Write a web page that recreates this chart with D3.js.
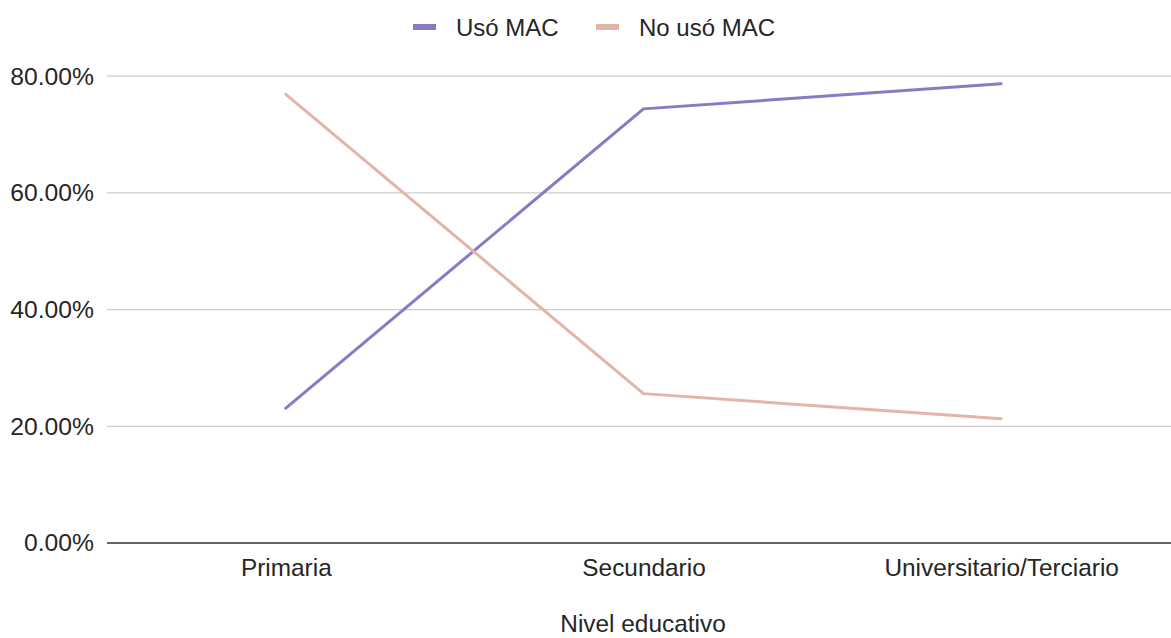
<!DOCTYPE html>
<html>
<head>
<meta charset="utf-8">
<script src="https://cdn.jsdelivr.net/npm/d3@7"></script>
<style>
  html, body { margin: 0; padding: 0; background: #ffffff; }
  svg { display: block; font-family: "Liberation Sans", Arial, sans-serif; }
</style>
</head>
<body>
<svg id="chart" width="1171" height="638"></svg>
<script>
// Education level categories and share of each group (percent)
const categories = ["Primaria", "Secundario", "Universitario/Terciario"];
const usoMAC = [23.1, 74.4, 78.7];
const noUsoMAC = [76.9, 25.6, 21.3];
const yTicks = [0, 20, 40, 60, 80];
const seriesNames = ["Usó MAC", "No usó MAC"];
const seriesColors = ["#8a79c5", "#e4b4a9"];
const xTitle = "Nivel educativo";

const svg = d3.select("#chart");
const W = 1171;
const plotLeft = 107, plotRight = 1180, plotBottom = 543;
const fontFamily = "Liberation Sans, Arial, sans-serif";
const textColor = "#262626";

const x = d3.scalePoint().domain(categories).range([plotLeft, plotRight]).padding(0.5);
const y = d3.scaleLinear().domain([0, 100]).range([plotBottom, plotBottom - 116.7 * 5]);

// Horizontal gridlines
svg.append("g")
  .selectAll("line")
  .data(yTicks.filter(d => d > 0))
  .join("line")
  .attr("x1", plotLeft).attr("x2", W)
  .attr("y1", d => y(d)).attr("y2", d => y(d))
  .attr("stroke", "#cccccc").attr("stroke-width", 1.2);

// Y axis labels
const yAxis = d3.axisLeft(y).tickValues(yTicks).tickSize(0).tickPadding(13)
  .tickFormat(d => d.toFixed(2) + "%");
const gy = svg.append("g").attr("transform", `translate(${plotLeft},0)`).call(yAxis);
gy.select(".domain").remove();
gy.selectAll("text").attr("font-size", 24.7).attr("fill", textColor)
  .attr("font-family", fontFamily);

// Baseline
svg.append("line")
  .attr("x1", plotLeft).attr("x2", W)
  .attr("y1", y(0)).attr("y2", y(0))
  .attr("stroke", "#333333").attr("stroke-width", 1.6);

// X axis labels
const xAxis = d3.axisBottom(x).tickSize(0).tickPadding(16);
const gx = svg.append("g").attr("transform", `translate(0,${plotBottom})`).call(xAxis);
gx.select(".domain").remove();
gx.selectAll("text").attr("font-size", 24.4).attr("fill", textColor)
  .attr("font-family", fontFamily);

// X axis title
svg.append("text")
  .attr("x", (plotLeft + plotRight) / 2 - 0.5).attr("y", 632)
  .attr("text-anchor", "middle").attr("font-size", 24.4).attr("fill", textColor)
  .text(xTitle);

// Lines
const series = [usoMAC, noUsoMAC];
const line = d3.line().x((d, i) => x(categories[i])).y(d => y(d));
svg.append("g").selectAll("path")
  .data(series)
  .join("path")
  .attr("d", d => line(d))
  .attr("fill", "none")
  .attr("stroke", (d, i) => seriesColors[i])
  .attr("stroke-width", 3)
  .attr("stroke-linejoin", "round")
  .attr("stroke-linecap", "round");

// Legend
const legendItems = [
  { name: seriesNames[0], color: seriesColors[0], x: 413 },
  { name: seriesNames[1], color: seriesColors[1], x: 596 }
];
const lg = svg.append("g").selectAll("g").data(legendItems).join("g")
  .attr("transform", d => `translate(${d.x},27)`);
lg.append("rect").attr("x", 0).attr("y", -3).attr("width", 23).attr("height", 6)
  .attr("fill", d => d.color);
lg.append("text").attr("x", 43).attr("y", 9).attr("font-size", 24).attr("fill", textColor)
  .attr("font-family", fontFamily).text(d => d.name);
</script>
</body>
</html>
